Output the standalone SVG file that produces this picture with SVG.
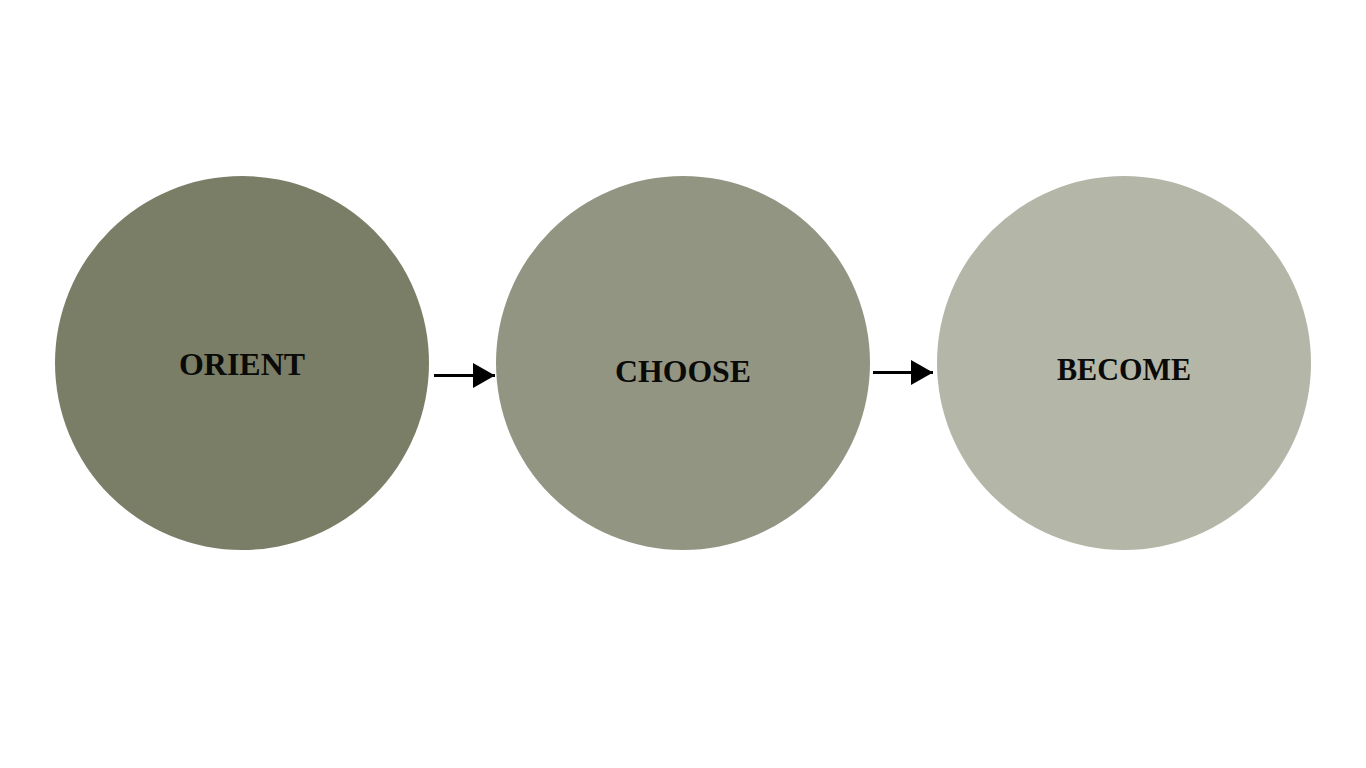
<svg xmlns="http://www.w3.org/2000/svg" width="1366" height="768" viewBox="0 0 1366 768">
<style>
.lbl{font-family:"Liberation Serif","DejaVu Serif",serif;font-weight:bold;font-size:32px;fill:#0a0a08;text-anchor:middle}
.conn line{stroke:#000;stroke-width:3}
</style>
<defs>
<marker id="ah" markerUnits="userSpaceOnUse" markerWidth="24" markerHeight="26" refX="22" refY="12.5" orient="auto">
<polygon points="0,0 22,12.5 0,25" fill="#000"/>
</marker>
</defs>
<rect width="1366" height="768" fill="#fff"/>
<g id="node-orient">
<circle cx="242" cy="363" r="187" fill="#7a7e67"/>
<text class="lbl" x="242" y="375" textLength="126" lengthAdjust="spacingAndGlyphs">ORIENT</text>
</g>
<g id="node-choose">
<circle cx="683" cy="363" r="187" fill="#939583"/>
<text class="lbl" x="683" y="382" textLength="136" lengthAdjust="spacingAndGlyphs">CHOOSE</text>
</g>
<g id="node-become">
<circle cx="1124" cy="363" r="187" fill="#b4b6a8"/>
<text class="lbl" x="1124" y="380" textLength="134" lengthAdjust="spacingAndGlyphs">BECOME</text>
</g>
<g id="connectors" class="conn">
<line x1="434" y1="375.5" x2="495" y2="375.5" marker-end="url(#ah)"/>
<line x1="873" y1="372.5" x2="933" y2="372.5" marker-end="url(#ah)"/>
</g>
</svg>
